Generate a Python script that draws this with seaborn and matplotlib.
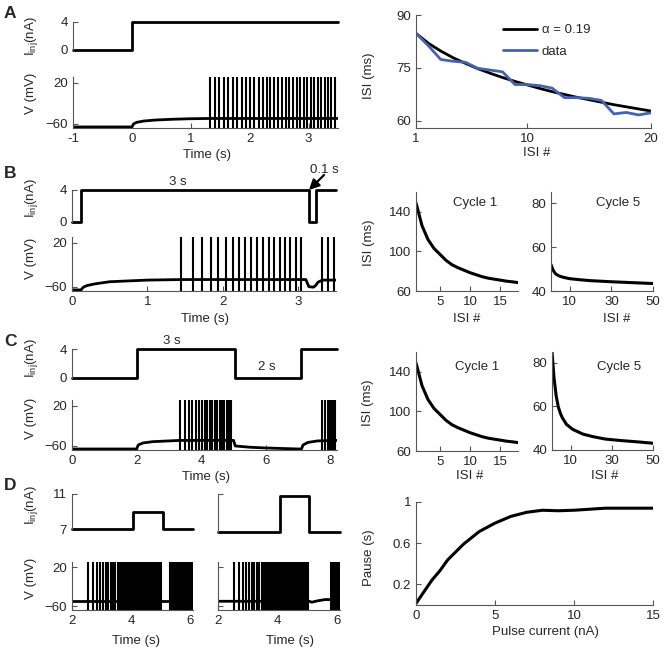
import numpy as np
import matplotlib
matplotlib.use('Agg')
import matplotlib.pyplot as plt
import seaborn as sns

sns.set_style('ticks')
plt.rcParams['font.family'] = ['Liberation Sans', 'DejaVu Sans']
plt.rcParams['mathtext.fontset'] = 'custom'
plt.rcParams['mathtext.rm'] = 'Liberation Sans'
plt.rcParams['mathtext.it'] = 'Liberation Sans:italic'

FS = 9.5
SP = '#555555'
BLUE = '#4464B0'
W, H = 666, 652

# ---- data ----
# A: step current, membrane potential, ISI adaptation
a_cur_t = [-1, 0, 3.5]
a_cur_i = [0, 4, 4]
a_base_t = [-1, 0, 0.03, 0.08, 0.2, 0.4, 0.7, 1.0, 1.32, 3.5]
a_base_v = [-66, -66, -60, -57, -54.5, -52.5, -51, -50, -49.5, -49.5]
a_first_spike = 1.32
a_isi_n = list(range(1, 21))
a_isi_data = [84.8, 81.3, 77.4, 76.9, 76.6, 74.9, 74.4, 73.9, 70.3, 70.3,
              70.0, 69.3, 66.6, 66.6, 66.4, 65.8, 62.0, 62.4, 61.7, 62.3]
a_isi_fit = [84.8, 82.0, 79.8, 77.9, 76.3, 74.8, 73.5, 72.3, 71.2, 70.2,
             69.2, 68.3, 67.5, 66.7, 66.0, 65.3, 64.6, 64.0, 63.4, 62.8]
a_isi_late = [61.5, 61, 60.5, 60, 60, 59.5, 59, 59, 58.5, 58, 58, 58]

# B: 3 s pulses with 0.1 s gaps
b_cur_t = [0, 0.12, 3.14, 3.23, 3.5]
b_cur_i = [0, 4, 0, 4, 4]
b_base_t = [0, 0.12, 0.15, 0.2, 0.3, 0.5, 1.0, 1.45, 3.1, 3.14, 3.2, 3.23, 3.26, 3.32, 3.5]
b_base_v = [-66, -66, -61, -58, -55, -51, -48, -47, -47, -60, -61, -58, -52, -48, -48]
b_first_spike = 1.45
b_late_spikes = [3.32, 3.40, 3.47]

# cycle-1 ISI curve (same in B and C)
c1_n = list(range(1, 19))
c1_isi = [149, 126, 112, 103, 97, 91, 86.5, 83.5, 81, 78.5,
          76.5, 74.5, 73, 72, 71, 70, 69.3, 68.5]
b5_n = [1, 2, 3, 4, 5, 7, 10, 15, 20, 30, 40, 50]
b5_isi = [52, 49.5, 48, 47.3, 46.8, 46.2, 45.6, 45.1, 44.7, 44.2, 43.8, 43.4]

# C: 3 s on / 2 s off
c_cur_t = [0, 2, 5.05, 7.1, 8.2]
c_cur_i = [0, 4, 0, 4, 4]
c_base_t = [0, 2, 2.05, 2.2, 2.5, 3.0, 3.34, 5.0, 5.05, 5.5, 6.0, 6.5, 7.0, 7.1, 7.15, 7.3, 7.6, 8.2]
c_base_v = [-66, -66, -58, -54, -51.5, -50, -49, -49, -60, -62.5, -64, -65, -66, -66, -58, -53, -50, -49]
c_first_spike = 3.34
c_late_spikes = [7.75, 7.84, 7.91, 7.97, 8.03, 8.09, 8.15]
c5_n = [1, 2, 3, 4, 5, 6, 8, 11, 16, 21, 27, 35, 43, 50]
c5_isi = [85, 73, 65, 60, 57, 54.8, 51.8, 49.5, 47.3, 46.1, 45, 44.3, 43.7, 43.1]

# D: pulses on top of 7 nA
d_cur_t = [2, 4.07, 5.07, 6.1]
d_left_i = [7, 9, 7, 7]
d_mid_i = [7, 10.8, 7, 7]
d_first_spike = 2.55
d_isi = [170, 130, 95, 105, 90, 85, 85, 80, 78, 75, 72, 70, 66, 62, 58, 55, 52, 50,
         48, 46, 45, 44, 43, 42, 41, 40, 40, 39, 39, 38, 38, 37, 37, 37, 36, 36, 36,
         35, 35, 35, 35, 34, 34, 34, 34, 34]
d_pulse_end = 5.05
d_left_resume = 5.32
d_mid_resume = 5.8
d_isi_resume = [45, 42, 40, 38, 37, 36, 35, 35, 34, 34, 34, 34, 34, 34, 34, 34,
                34, 34, 34, 34, 34, 34, 34]
d_left_base_t = [2, 6.1]
d_left_base_v = [-50, -50]
d_mid_base_t = [2, 5.07, 5.15, 5.35, 5.6, 6.1]
d_mid_base_v = [-50, -50, -52, -49, -46.5, -46.5]

pulse_current = [0, 0.5, 1, 1.5, 2, 3, 4, 5, 6, 7, 8, 9, 10, 11, 12, 13, 14, 15]
pause = [0.015, 0.128, 0.24, 0.33, 0.437, 0.59, 0.713, 0.795, 0.86, 0.90,
         0.92, 0.915, 0.92, 0.93, 0.94, 0.94, 0.94, 0.94]


def spike_train(first, isis):
    return first + np.concatenate([[0], np.cumsum(isis)]) / 1000.0


fig = plt.figure(figsize=(W / 100, H / 100), dpi=100)


def add_ax(l, t, r, b):
    return fig.add_axes([l / W, 1 - b / H, (r - l) / W, (b - t) / H])


def style(ax, bottom=True):
    ax.spines[['top', 'right']].set_visible(False)
    for s in ax.spines.values():
        s.set_color(SP)
        s.set_linewidth(0.8)
    ax.tick_params(direction='in', length=3.5, width=0.8, color=SP,
                   labelsize=FS, pad=3.5)
    ax.set_xlabel('')
    ax.set_ylabel('')
    if not bottom:
        ax.spines['bottom'].set_visible(False)
        ax.set_xticks([])


def current_ax(l, t, r, b, tt, ii, xlim, ylim, yticks, labels=True):
    ax = add_ax(l, t, r, b)
    sns.lineplot(x=tt, y=ii, ax=ax, color='k', lw=2, estimator=None, sort=False,
                 drawstyle='steps-post')
    for ln in ax.lines:
        ln.set_clip_on(False)
    ax.set_xlim(*xlim)
    ax.set_ylim(*ylim)
    style(ax, bottom=False)
    ax.set_yticks(yticks)
    if not labels:
        ax.set_yticklabels([])
    return ax


def voltage_ax(l, t, r, b, bt, bv, spikes, xlim, xticks, ylabels=True):
    ax = add_ax(l, t, r, b)
    ax.vlines(spikes, -68, 31, color='k', lw=1.5)
    sns.lineplot(x=bt, y=bv, ax=ax, color='k', lw=2, estimator=None, sort=False)
    ax.set_xlim(*xlim)
    ax.set_ylim(-68, 31)
    style(ax)
    ax.set_yticks([20, -60])
    ax.set_yticklabels(['20', '\u221260'] if ylabels else [])
    ax.set_xticks(xticks)
    ax.set_xticklabels(['-1' if v < 0 else str(v) for v in xticks])
    return ax


def isi_ax(l, t, r, b, n, vals, xlim, ylim, xticks, yticks, color='k', lw=2.2):
    ax = add_ax(l, t, r, b)
    sns.lineplot(x=n, y=vals, ax=ax, color=color, lw=lw, estimator=None, sort=False)
    ax.set_xlim(*xlim)
    ax.set_ylim(*ylim)
    style(ax)
    ax.set_xticks(xticks)
    ax.set_yticks(yticks)
    return ax


def ftext(x, y, s, **kw):
    kw.setdefault('fontsize', FS)
    fig.text(x / W, 1 - y / H, s, ha=kw.pop('ha', 'center'), va=kw.pop('va', 'center'), **kw)


IINJ = 'I$_{\\rm inj}$(nA)'

# ---------------- A ----------------
current_ax(73, 22, 338, 50, a_cur_t, a_cur_i, (-1, 3.5), (0, 4), [0, 4])
a_spikes = spike_train(a_first_spike, a_isi_data + a_isi_late)
voltage_ax(73, 77, 338, 128, a_base_t, a_base_v, a_spikes, (-1, 3.5), [-1, 0, 1, 2, 3])
ftext(207, 155, 'Time (s)')
ftext(31, 36, IINJ, rotation=90)
ftext(31, 93, 'V (mV)', rotation=90)

ax = add_ax(416, 15, 651, 128)
sns.lineplot(x=a_isi_n, y=a_isi_fit, ax=ax, color='k', lw=2, label='\u03b1 = 0.19',
             estimator=None, sort=False)
sns.lineplot(x=a_isi_n, y=a_isi_data, ax=ax, color=BLUE, lw=2, label='data',
             estimator=None, sort=False)
ax.set_xlim(1, 20)
ax.set_ylim(58, 90)
style(ax)
ax.set_xticks([1, 10, 20])
ax.set_yticks([60, 75, 90])
ax.legend(loc='upper left', bbox_to_anchor=(503 / W, 1 - 24 / H),
          bbox_transform=fig.transFigure, frameon=False, fontsize=FS,
          handlelength=2.6, handletextpad=0.35, labelspacing=0.7,
          borderpad=0, borderaxespad=0)
ftext(537, 153, 'ISI #')
ftext(369, 76, 'ISI (ms)', rotation=90)

# ---------------- B ----------------
current_ax(72, 190, 336, 222, b_cur_t, b_cur_i, (0, 3.5), (0, 4), [0, 4])
b_spikes = np.concatenate([spike_train(b_first_spike, c1_isi), b_late_spikes])
voltage_ax(72, 237, 336, 291, b_base_t, b_base_v, b_spikes, (0, 3.5), [0, 1, 2, 3])
ftext(205, 319, 'Time (s)')
ftext(31, 198, IINJ, rotation=90)
ftext(31, 258, 'V (mV)', rotation=90)
ftext(178, 182, '3 s')
ftext(324, 170, '0.1 s')
fig.add_artist(matplotlib.patches.FancyArrowPatch(
    (324 / W, 1 - 175 / H), (309 / W, 1 - 190 / H), transform=fig.transFigure,
    arrowstyle='-|>', mutation_scale=15, color='k', lw=1.6, shrinkA=0, shrinkB=0))

isi_ax(416, 192, 518, 291, c1_n, c1_isi, (1, 18), (60, 160), [5, 10, 15], [60, 100, 140])
ftext(467, 319, 'ISI #')
ftext(475, 203, 'Cycle 1')
isi_ax(551, 192, 653, 291, b5_n, b5_isi, (1, 50), (40, 85), [10, 30, 50], [40, 60, 80])
ftext(617, 319, 'ISI #')
ftext(618, 203, 'Cycle 5')
ftext(369, 243, 'ISI (ms)', rotation=90)

# ---------------- C ----------------
current_ax(72, 349, 337, 378, c_cur_t, c_cur_i, (0, 8.2), (0, 4), [0, 4])
c_spikes = np.concatenate([spike_train(c_first_spike, c1_isi), c_late_spikes])
voltage_ax(72, 400, 337, 450, c_base_t, c_base_v, c_spikes, (0, 8.2), [0, 2, 4, 6, 8])
ftext(206, 477, 'Time (s)')
ftext(31, 358, IINJ, rotation=90)
ftext(31, 418, 'V (mV)', rotation=90)
ftext(172, 341, '3 s')
ftext(267, 367, '2 s')

isi_ax(416, 352, 518, 451, c1_n, c1_isi, (1, 18), (60, 160), [5, 10, 15], [60, 100, 140])
ftext(470, 476, 'ISI #')
ftext(477, 367, 'Cycle 1')
isi_ax(552, 352, 653, 450, c5_n, c5_isi, (1, 50), (40, 85), [10, 30, 50], [40, 60, 80])
ftext(605, 476, 'ISI #')
ftext(619, 367, 'Cycle 5')
ftext(368, 403, 'ISI (ms)', rotation=90)

# ---------------- D ----------------
current_ax(72, 494, 193, 529, d_cur_t, d_left_i, (2, 6.1), (7, 11), [7, 11])
current_ax(218, 494, 340, 532, d_cur_t, d_mid_i, (2, 6.1), (7, 11), [7, 11], labels=False)
d_train = spike_train(d_first_spike, d_isi)
d_left_spikes = np.concatenate([d_train[d_train < d_pulse_end],
                                spike_train(d_left_resume, d_isi_resume)])
d_mid_spikes = np.concatenate([d_train[d_train < d_pulse_end],
                               spike_train(d_mid_resume, d_isi_resume)])
voltage_ax(72, 562, 193, 610, d_left_base_t, d_left_base_v, d_left_spikes, (2, 6.1), [2, 4, 6])
voltage_ax(218, 562, 340, 610, d_mid_base_t, d_mid_base_v, d_mid_spikes, (2, 6.1), [2, 4, 6],
           ylabels=False)
ftext(136, 641, 'Time (s)')
ftext(290, 641, 'Time (s)')
ftext(31, 505, IINJ, rotation=90)
ftext(31, 578, 'V (mV)', rotation=90)

isi_ax(416, 502, 653, 605, pulse_current, pause, (0, 15), (0, 1), [0, 5, 10, 15],
       [0.2, 0.6, 1], lw=2.2)
plt.gcf().axes[-1].set_yticklabels(['0.2', '0.6', '1'])
ftext(545, 632, 'Pulse current (nA)')
ftext(369, 558, 'Pause (s)', rotation=90)

# panel letters
for letter, y in zip('ABCD', [13, 174, 342, 485]):
    ftext(4, y, letter, ha='left', fontsize=12.5, fontweight='bold')

fig.savefig('out.png', dpi=100)
